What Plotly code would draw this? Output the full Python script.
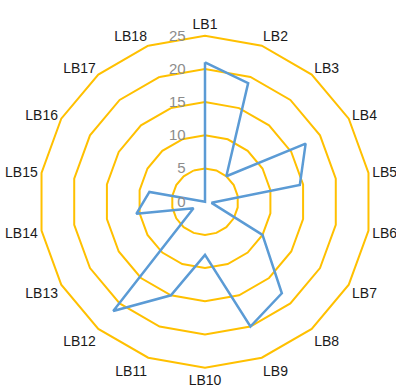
import plotly.graph_objects as go

categories = [f"LB{i}" for i in range(1, 19)]
values = [21, 19, 5, 17.5, 14.5, 1, 10, 18, 20, 8, 15, 21.5, 2, 10.5, 8.5, 0, 0, 0]
radial_ticks = [0, 5, 10, 15, 20, 25]

# close the polygon back to the first category
r_closed = values + values[:1]
theta_closed = categories + categories[:1]

fig = go.Figure()
fig.add_trace(go.Scatterpolar(
    r=r_closed,
    theta=theta_closed,
    mode="lines",
    line=dict(color="#5B9BD5", width=2.5),
    showlegend=False,
))

grid_color = "#FFC000"
# non-breaking padding keeps the radial labels clear of the LB1 spoke
pad = "\u00a0" * 4
fig.update_layout(
    width=396,
    height=392,
    margin=dict(l=0, r=0, t=0, b=0),
    paper_bgcolor="white",
    plot_bgcolor="white",
    font=dict(family="Liberation Sans, sans-serif"),
    polar=dict(
        domain=dict(x=[39 / 396, 371 / 396], y=[1 - 367.7 / 392, 1 - 35.7 / 392]),
        bgcolor="white",
        gridshape="linear",
        radialaxis=dict(
            range=[0, 25],
            tickvals=radial_ticks,
            ticktext=[f"{t}{pad}" for t in radial_ticks],
            angle=90,
            tickangle=90,
            side="counterclockwise",
            showline=False,
            ticks="",
            gridcolor=grid_color,
            gridwidth=2,
            tickfont=dict(size=15, color="#8C8C8C"),
        ),
        angularaxis=dict(
            direction="clockwise",
            rotation=90,
            showgrid=False,
            showline=True,
            linecolor=grid_color,
            linewidth=2,
            ticks="",
            tickfont=dict(size=14, color="#1A1A1A"),
        ),
    ),
)

fig.write_html("out.html")
